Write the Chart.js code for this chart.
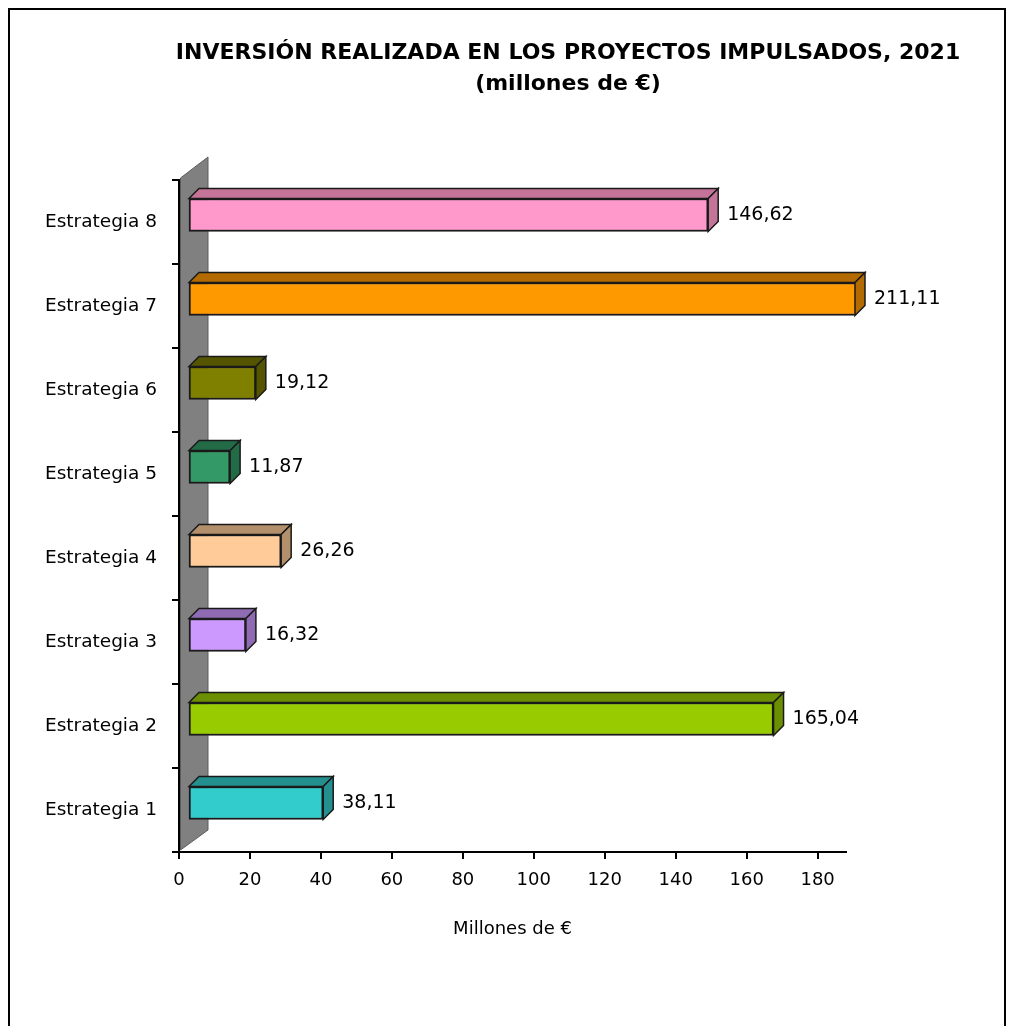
<!DOCTYPE html>
<html>
<head>
<meta charset="utf-8">
<script src="https://cdn.jsdelivr.net/npm/chart.js@4"></script>
<style>
  body { margin: 0; background: #fff; }
  #frame { position: absolute; left: 8px; top: 8px; width: 998px; height: 1100px; border: 2px solid #000; box-sizing: border-box; }
  #wrap { position: absolute; left: 0; top: 0; width: 1010px; height: 1026px; }
</style>
</head>
<body>
<div id="frame"></div>
<div id="wrap"><canvas id="myChart" width="1010" height="1026"></canvas></div>
<script>
const categories = ['Estrategia 1', 'Estrategia 2', 'Estrategia 3', 'Estrategia 4',
                    'Estrategia 5', 'Estrategia 6', 'Estrategia 7', 'Estrategia 8'];
const values = [38.11, 165.04, 16.32, 26.26, 11.87, 19.12, 211.11, 146.62];
const barColors = ['#33CCCC', '#99CC00', '#CC99FF', '#FFCC99', '#339966', '#808000', '#FF9900', '#FF99CC'];
const shadeColors = ['#248F8F', '#6B8F00', '#8F6BB3', '#B38F6B', '#236B47', '#555500', '#B36B00', '#C47399'];
const tickValues = [0, 20, 40, 60, 80, 100, 120, 140, 160, 180];
const axisMax = 188;
const titleLines = ['INVERSIÓN REALIZADA EN LOS PROYECTOS IMPULSADOS, 2021', '(millones de €)'];
const axisTitle = 'Millones de €';

const FONT = '"DejaVu Sans", sans-serif';
const DX = 10, DY = 10;      // bar depth
const SHIFT_X = 9, SHIFT_Y = -7;

const fmt = v => v.toFixed(2).replace('.', ',');

const threeD = {
  id: 'threeD',
  beforeDatasetsDraw(chart) {
    const ctx = chart.ctx;
    const a = chart.chartArea;
    // gray back wall
    ctx.save();
    ctx.beginPath();
    ctx.moveTo(a.left + 1.5, a.bottom - 2);
    ctx.lineTo(a.left + 1.5, a.top - 2);
    ctx.lineTo(a.left + 29, a.top - 23);
    ctx.lineTo(a.left + 29, a.bottom - 22);
    ctx.closePath();
    ctx.fillStyle = '#808080';
    ctx.fill();
    ctx.strokeStyle = '#5c5c5c';
    ctx.lineWidth = 1;
    ctx.stroke();
    ctx.restore();
    ctx.save();
    ctx.translate(SHIFT_X, SHIFT_Y);
  },
  afterDatasetsDraw(chart) {
    const ctx = chart.ctx;
    const a = chart.chartArea;
    const meta = chart.getDatasetMeta(0);
    meta.data.forEach((bar, i) => {
      const x0 = bar.base;
      const x1 = Math.min(bar.x, a.right);
      const top = bar.y - bar.height / 2;
      const bot = bar.y + bar.height / 2;
      ctx.lineWidth = 1.5;
      ctx.strokeStyle = '#1a1a1a';
      ctx.fillStyle = shadeColors[i];
      // top face
      ctx.beginPath();
      ctx.moveTo(x0, top);
      ctx.lineTo(x0 + DX, top - DY);
      ctx.lineTo(x1 + DX, top - DY);
      ctx.lineTo(x1, top);
      ctx.closePath();
      ctx.fill();
      ctx.stroke();
      // side face
      ctx.beginPath();
      ctx.moveTo(x1, top);
      ctx.lineTo(x1 + DX, top - DY);
      ctx.lineTo(x1 + DX, bot - DY);
      ctx.lineTo(x1, bot);
      ctx.closePath();
      ctx.fill();
      ctx.stroke();
      // value label
      ctx.fillStyle = '#000';
      ctx.font = '19px ' + FONT;
      ctx.textAlign = 'left';
      ctx.textBaseline = 'middle';
      ctx.fillText(fmt(values[i]), x1 + DX + 9, bar.y);
    });
    ctx.restore();
  },
  afterDraw(chart) {
    const ctx = chart.ctx;
    ctx.save();
    ctx.fillStyle = '#000';
    ctx.font = 'bold 22px ' + FONT;
    ctx.textAlign = 'center';
    ctx.textBaseline = 'middle';
    ctx.fillText(titleLines[0], 568, 53);
    ctx.fillText(titleLines[1], 568, 84);
    ctx.restore();
  }
};

new Chart(document.getElementById('myChart'), {
  type: 'bar',
  data: {
    labels: categories,
    datasets: [{
      data: values,
      backgroundColor: barColors,
      borderColor: '#1a1a1a',
      borderWidth: 2,
      borderSkipped: false,
      barThickness: 33
    }]
  },
  options: {
    indexAxis: 'y',
    responsive: false,
    animation: false,
    layout: { padding: { top: 180, right: 164, bottom: 84, left: 0 } },
    plugins: { legend: { display: false }, tooltip: { enabled: false } },
    scales: {
      x: {
        min: 0,
        max: axisMax,
        afterFit: s => { s.height = 90; },
        afterBuildTicks: s => { s.ticks = tickValues.map(v => ({ value: v })); },
        ticks: { color: '#000', padding: 11, font: { family: FONT, size: 18 } },
        grid: { drawOnChartArea: false, drawTicks: true, tickLength: 7, color: '#000', lineWidth: 2 },
        border: { display: true, color: '#000', width: 2 },
        title: { display: true, text: axisTitle, color: '#000', font: { family: FONT, size: 18 }, padding: { top: 0, bottom: 2 } }
      },
      y: {
        reverse: true,
        afterFit: s => { s.width = 179; },
        ticks: { color: '#000', padding: 15, font: { family: FONT, size: 18.5 } },
        grid: { drawOnChartArea: false, drawTicks: true, tickLength: 7, color: '#000', lineWidth: 2 },
        border: { display: true, color: '#000', width: 2 }
      }
    }
  },
  plugins: [threeD]
});
</script>
</body>
</html>
